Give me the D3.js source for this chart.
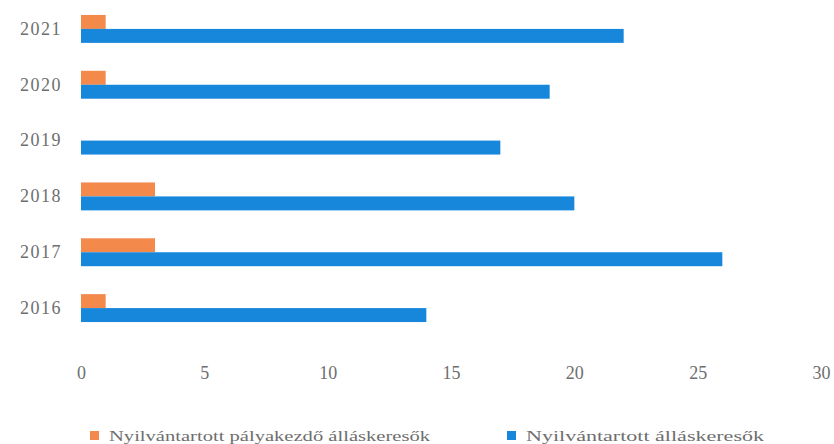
<!DOCTYPE html>
<html><head><meta charset="utf-8">
<script src="https://cdn.jsdelivr.net/npm/d3@7"></script>
<style>html,body{margin:0;padding:0;background:#fff;}svg{display:block;}</style>
</head><body>
<svg id="chart" width="834" height="444"></svg>
<script>
const years = ["2021","2020","2019","2018","2017","2016"];
const palyakezdo = [1, 1, 0, 3, 3, 1];
const osszes = [22, 19, 17, 20, 26, 14];
const seriesNames = ["Nyilvántartott pályakezdő álláskeresők", "Nyilvántartott álláskeresők"];
const xTicks = [0, 5, 10, 15, 20, 25, 30];
const colors = ["#F38A4C", "#1787DC"];

const svg = d3.select("#chart");
const x = d3.scaleLinear().domain([0, 30]).range([81, 821]);
const y = d3.scaleBand().domain(years).range([1, 336]).paddingInner(0.5).paddingOuter(0.25);
const sub = d3.scaleBand().domain([0, 1]).range([0, y.bandwidth()]);

const series = [palyakezdo, osszes];
series.forEach((vals, si) => {
  svg.append("g").selectAll("rect").data(years).join("rect")
    .attr("x", x(0))
    .attr("y", (d) => y(d) + sub(si))
    .attr("width", (d, i) => x(vals[i]) - x(0))
    .attr("height", sub.bandwidth())
    .attr("fill", colors[si]);
});

const font = "'Liberation Serif', 'DejaVu Serif', serif";
const yAxis = svg.append("g").attr("transform", `translate(${x(0)},0)`)
  .call(d3.axisLeft(y).tickSize(0).tickPadding(19));
yAxis.select(".domain").remove();
yAxis.selectAll("text").attr("font-family", font).attr("font-size", 18)
  .attr("letter-spacing", 1.5).attr("fill", "#6e6e6e");

const xAxis = svg.append("g").attr("transform", `translate(0,362)`)
  .call(d3.axisBottom(x).tickValues(xTicks).tickSize(0).tickPadding(4));
xAxis.select(".domain").remove();
xAxis.selectAll("text").attr("font-family", font).attr("font-size", 18).attr("fill", "#6e6e6e");

// legend
const legendX = [90, 507];
const legendW = [321, 238];
const lg = svg.append("g").selectAll("g").data(seriesNames).join("g")
  .attr("transform", (d, i) => `translate(${legendX[i]},431)`);
lg.append("rect").attr("width", 9).attr("height", 9).attr("y", 0).attr("fill", (d, i) => colors[i]);
lg.append("text").attr("x", 19).attr("y", 9.5)
  .attr("font-family", font).attr("font-size", 15).attr("fill", "#6e6e6e")
  .attr("textLength", (d, i) => legendW[i]).attr("lengthAdjust", "spacingAndGlyphs")
  .text(d => d);
</script>
</body></html>
